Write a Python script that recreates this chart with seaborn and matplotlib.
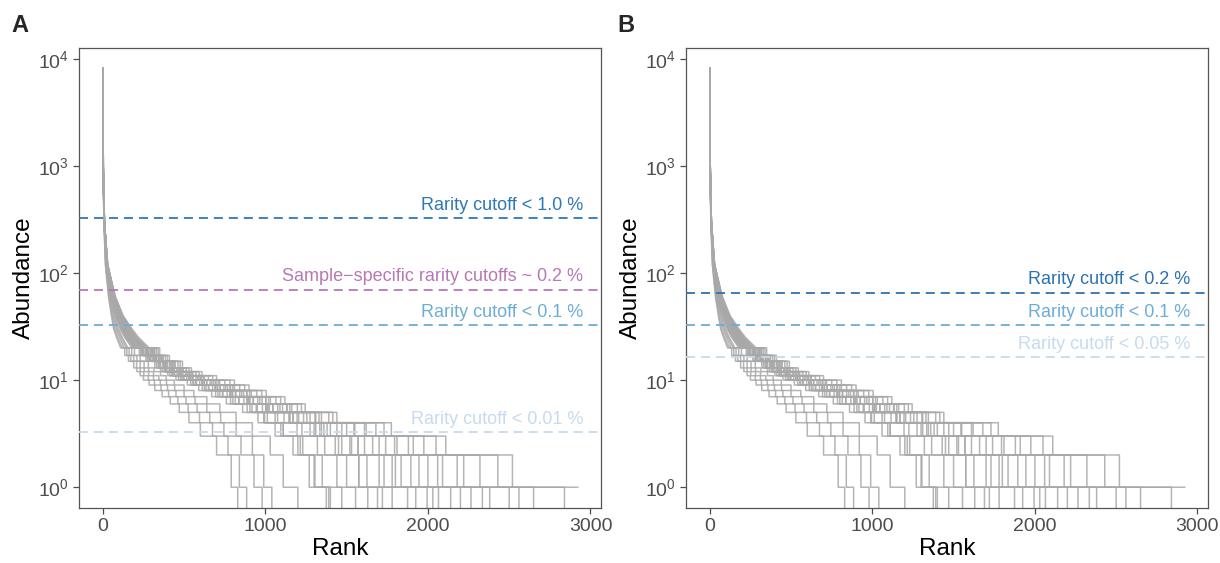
import numpy as np
import pandas as pd
import matplotlib
matplotlib.use("Agg")
import matplotlib.pyplot as plt
import seaborn as sns
from matplotlib.ticker import LogLocator, LogFormatterSciNotation, NullLocator

# abundance levels: the head is a smooth curve, the tail is a staircase
head_levels = [8200, 1000, 300, 120, 60, 40, 30, 25]
step_levels = [20, 17, 15, 13, 12, 11, 10, 9, 8, 7, 6, 5, 4, 3, 2, 1]
levels = head_levels + step_levels

# per sample: first rank at each level, last value = number of taxa
short_samples = [
    [1, 2, 7, 16, 35, 53, 67, 85, 110, 135, 158, 190, 210, 230, 250, 285, 320, 365, 415, 470, 530, 600, 700, 790, 830],
    [1, 2, 7, 17, 38, 57, 73, 92, 120, 148, 172, 208, 230, 252, 280, 318, 358, 405, 462, 525, 595, 675, 770, 840, 885],
    [1, 2, 8, 19, 42, 64, 82, 103, 132, 162, 190, 230, 255, 282, 312, 354, 398, 450, 512, 580, 658, 745, 850, 930, 980],
    [1, 2, 8, 20, 46, 70, 90, 112, 145, 178, 210, 254, 282, 312, 345, 392, 442, 500, 568, 640, 725, 820, 920, 990, 1040],
    [1, 2, 8, 22, 50, 76, 98, 120, 155, 195, 230, 280, 315, 355, 390, 440, 500, 560, 640, 720, 820, 920, 1030, 1110, 1200],
]
main_samples = [
    [1, 2, 8, 22, 50, 82, 108, 135, 180, 225, 265, 320, 355, 400, 450, 520, 590, 670, 760, 860, 955, 1060, 1170, 1270, 1375],
    [1, 2, 9, 23, 55, 90, 120, 150, 198, 244, 287, 345, 384, 430, 486, 560, 635, 720, 815, 918, 1012, 1110, 1215, 1305, 1390],
    [1, 2, 8, 24, 54, 88, 117, 146, 194, 240, 283, 340, 378, 424, 478, 552, 625, 708, 800, 905, 995, 1095, 1200, 1300, 1400],
    [1, 2, 9, 23, 52, 84, 112, 140, 186, 232, 274, 330, 366, 412, 466, 540, 612, 694, 786, 888, 990, 1110, 1230, 1350, 1470],
    [1, 2, 9, 25, 58, 93, 124, 154, 204, 252, 296, 355, 394, 442, 500, 576, 652, 738, 836, 944, 1060, 1195, 1320, 1440, 1555],
    [1, 2, 9, 24, 56, 90, 121, 150, 199, 247, 291, 350, 390, 438, 495, 572, 650, 737, 838, 950, 1075, 1225, 1365, 1500, 1630],
    [1, 3, 10, 27, 64, 102, 138, 170, 224, 276, 323, 387, 430, 480, 542, 624, 705, 796, 900, 1015, 1150, 1300, 1450, 1575, 1690],
    [1, 3, 9, 26, 60, 96, 129, 160, 211, 261, 306, 367, 408, 457, 516, 596, 675, 765, 868, 982, 1115, 1275, 1430, 1575, 1720],
    [1, 2, 9, 25, 62, 99, 134, 165, 217, 268, 314, 376, 418, 468, 529, 611, 691, 783, 888, 1005, 1145, 1310, 1470, 1625, 1780],
    [1, 3, 10, 27, 63, 101, 137, 169, 222, 274, 321, 385, 428, 479, 541, 624, 706, 799, 906, 1025, 1170, 1345, 1520, 1700, 1875],
    [1, 2, 9, 26, 61, 98, 133, 164, 216, 267, 313, 375, 417, 467, 528, 610, 690, 781, 886, 1002, 1150, 1335, 1530, 1730, 1925],
    [1, 3, 10, 28, 66, 105, 143, 176, 230, 283, 331, 396, 440, 492, 555, 640, 723, 818, 926, 1047, 1195, 1380, 1570, 1780, 1995],
    [1, 2, 9, 26, 63, 101, 138, 169, 221, 272, 318, 380, 423, 473, 533, 614, 695, 788, 895, 1015, 1170, 1360, 1570, 1800, 2030],
    [1, 2, 10, 27, 65, 104, 142, 174, 228, 281, 329, 394, 438, 490, 553, 638, 721, 816, 925, 1046, 1205, 1400, 1610, 1835, 2065],
    [1, 3, 10, 28, 68, 108, 148, 182, 238, 292, 342, 409, 455, 508, 573, 660, 745, 842, 953, 1076, 1235, 1440, 1660, 1895, 2140],
    [1, 2, 10, 29, 69, 110, 151, 185, 242, 297, 347, 415, 462, 516, 582, 670, 756, 854, 966, 1090, 1255, 1470, 1700, 1945, 2200],
    [1, 3, 10, 28, 70, 112, 154, 189, 246, 302, 353, 422, 469, 524, 591, 680, 767, 866, 980, 1106, 1275, 1500, 1740, 2000, 2265],
    [1, 2, 10, 29, 72, 115, 159, 194, 253, 310, 362, 433, 481, 537, 606, 697, 786, 887, 1003, 1131, 1305, 1545, 1795, 2060, 2335],
    [1, 3, 10, 28, 71, 114, 157, 192, 250, 306, 358, 428, 476, 532, 601, 692, 782, 885, 1003, 1134, 1310, 1550, 1810, 2090, 2380],
    [1, 3, 10, 29, 74, 118, 165, 201, 261, 320, 373, 446, 495, 553, 625, 719, 810, 913, 1031, 1162, 1345, 1610, 1880, 2180, 2500],
    [1, 2, 10, 30, 73, 117, 163, 199, 258, 316, 368, 440, 489, 547, 618, 710, 800, 903, 1020, 1150, 1330, 1620, 1910, 2220, 2560],
    [1, 3, 10, 30, 75, 120, 170, 208, 270, 330, 386, 462, 513, 573, 650, 750, 842, 947, 1065, 1197, 1390, 1680, 1975, 2320, 2650],
    [1, 3, 10, 29, 76, 122, 174, 213, 276, 340, 398, 476, 530, 593, 676, 782, 873, 978, 1094, 1222, 1415, 1730, 2050, 2430, 2840],
    [1, 3, 10, 30, 78, 125, 180, 220, 285, 350, 410, 490, 545, 610, 700, 810, 900, 1005, 1120, 1245, 1440, 1775, 2110, 2520, 2923],
]

# cutoff lines (abundance) and labels
cutoffs_a = [328, 70, 32.8, 3.28]
labels_a = ["Rarity cutoff < 1.0 %", "Sample\u2212specific rarity cutoffs ~ 0.2 %",
            "Rarity cutoff < 0.1 %", "Rarity cutoff < 0.01 %"]
colors_a = ["#2c78b8", "#b778b6", "#6baed6", "#c6dbef"]

cutoffs_b = [65.6, 32.8, 16.4]
labels_b = ["Rarity cutoff < 0.2 %", "Rarity cutoff < 0.1 %", "Rarity cutoff < 0.05 %"]
colors_b = ["#2b72b3", "#6baed6", "#c6dbef"]

# long-form table of vertices (head as a line, tail as steps, zero after last taxon)
rows = []
all_samples = short_samples + main_samples
max_rank = max(s[-1] for s in all_samples)
nh = len(head_levels)
for i, s in enumerate(all_samples):
    starts = s[:-1]
    n_taxa = s[-1]
    order = 0
    for k, a in enumerate(levels):
        rows.append((i, order, starts[k], a)); order += 1
        if k >= nh:
            end = starts[k + 1] if k + 1 < len(starts) else n_taxa
            rows.append((i, order, end, a)); order += 1
    if n_taxa < max_rank:
        rows.append((i, order, n_taxa, 0))
df = pd.DataFrame(rows, columns=["sample", "order", "rank", "abundance"])

sns.set_style("ticks")
plt.rcParams["font.family"] = ["Liberation Sans", "DejaVu Sans"]
plt.rcParams["mathtext.fontset"] = "custom"
plt.rcParams["mathtext.rm"] = "Liberation Sans"

fig = plt.figure(figsize=(12.2, 5.63), dpi=100)
ax_a = fig.add_axes([0.0648, 0.0977, 0.428, 0.817])
ax_b = fig.add_axes([0.5623, 0.0977, 0.428, 0.817])


def draw_panel(ax, cutoffs, labels, colors):
    sns.lineplot(data=df, x="rank", y="abundance", units="sample", estimator=None,
                 sort=False, color="#a8a8a8", alpha=0.85, linewidth=1.1,
                 legend=False, ax=ax, zorder=2)
    ax.set_yscale("log")
    ax.set_ylim(0.64, 12600)
    ax.set_xlim(-146, 3066)
    for c, lab, col in zip(cutoffs, labels, colors):
        ax.axhline(c, color=col, linestyle=(0, (5, 3.3)), linewidth=1.3, zorder=3)
        ax.annotate(lab, xy=(2955, c), xytext=(0, 3), textcoords="offset points",
                    ha="right", va="bottom", color=col, fontsize=13)
    ax.set_xticks([0, 1000, 2000, 3000])
    ax.yaxis.set_major_locator(LogLocator(base=10, numticks=10))
    ax.yaxis.set_major_formatter(LogFormatterSciNotation())
    ax.yaxis.set_minor_locator(NullLocator())
    ax.tick_params(axis="both", labelsize=14, colors="#4d4d4d", length=4, width=0.9,
                   labelcolor="#4d4d4d")
    ax.set_xlabel("Rank", fontsize=17.5, color="black", labelpad=2)
    ax.set_ylabel("Abundance", fontsize=17.5, color="black", labelpad=2)
    for sp in ax.spines.values():
        sp.set_visible(True)
        sp.set_color("#555555")
        sp.set_linewidth(0.9)


draw_panel(ax_a, cutoffs_a, labels_a, colors_a)
draw_panel(ax_b, cutoffs_b, labels_b, colors_b)

fig.text(0.009, 0.975, "A", fontsize=17, fontweight="bold", va="top", ha="left")
fig.text(0.506, 0.975, "B", fontsize=17, fontweight="bold", va="top", ha="left")

fig.savefig("out.png", dpi=100, facecolor="white")
